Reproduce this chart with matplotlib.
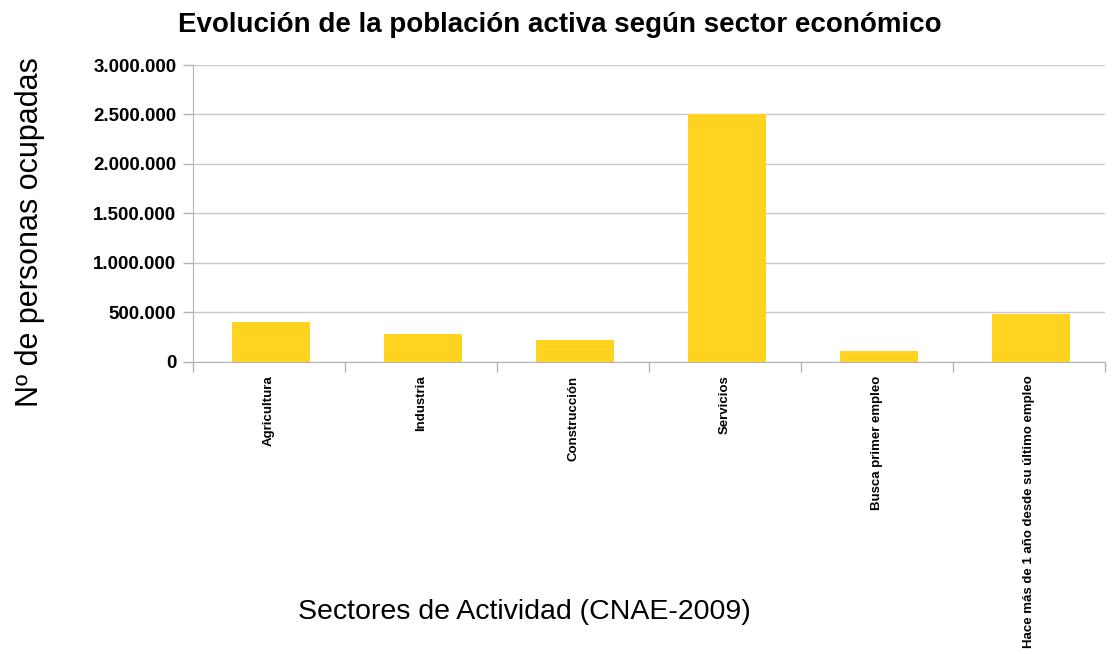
import numpy as np
import matplotlib
matplotlib.use("Agg")
import matplotlib.pyplot as plt
from matplotlib.ticker import FuncFormatter

plt.rcParams['font.family'] = ['Liberation Sans', 'DejaVu Sans']

sectores = ["Agricultura", "Industria", "Construcción", "Servicios",
            "Busca primer empleo", "Hace más de 1 año desde su último empleo"]
ocupados = [400000, 278000, 218000, 2505000, 106000, 481000]
y_ticks = [0, 500000, 1000000, 1500000, 2000000, 2500000, 3000000]

fig = plt.figure(figsize=(11.12, 6.54), dpi=100)
ax = fig.add_axes([0.1736, 0.4472, 0.8201, 0.4534])

x = np.arange(len(sectores))
ax.bar(x + 0.012, ocupados, width=0.51, color='#FFD320', zorder=3)

ax.set_xlim(-0.5, len(sectores) - 0.5)
ax.set_ylim(0, 3000000)
ax.set_yticks(y_ticks)
ax.yaxis.set_major_formatter(FuncFormatter(lambda v, p: f"{int(v):,}".replace(",", ".")))
ax.grid(axis='y', color='#c8c8c8', linewidth=1, zorder=0)

# category boundaries as major ticks, names as minor ticks
ax.set_xticks(np.arange(len(sectores) + 1) - 0.5)
ax.set_xticklabels([])
ax.set_xticks(x, sectores, minor=True)
ax.tick_params(axis='x', which='major', length=7, color='#b3b3b3', width=1)
ax.tick_params(axis='x', which='minor', length=0, pad=10)
for lbl in ax.get_xticklabels(minor=True):
    lbl.set_rotation(90)
    lbl.set_fontsize(9.5)
    lbl.set_fontweight('bold')
    lbl.set_va('top')
    lbl.set_ha('center')

ax.tick_params(axis='y', length=7, color='#b3b3b3', width=1, pad=5, labelsize=13.5)
for lbl in ax.get_yticklabels():
    lbl.set_fontweight('bold')

for s in ['top', 'right']:
    ax.spines[s].set_visible(False)
for s in ['left', 'bottom']:
    ax.spines[s].set_color('#b3b3b3')

fig.text(0.503, 0.962, "Evolución de la población activa según sector económico",
         ha='center', va='center', fontsize=20, fontweight='bold')
fig.text(0.027, 0.645, "Nº de personas ocupadas", rotation=90,
         ha='center', va='center', fontsize=22)
fig.text(0.472, 0.064, "Sectores de Actividad (CNAE-2009)",
         ha='center', va='center', fontsize=20.5)

fig.savefig("out.png", dpi=100)
